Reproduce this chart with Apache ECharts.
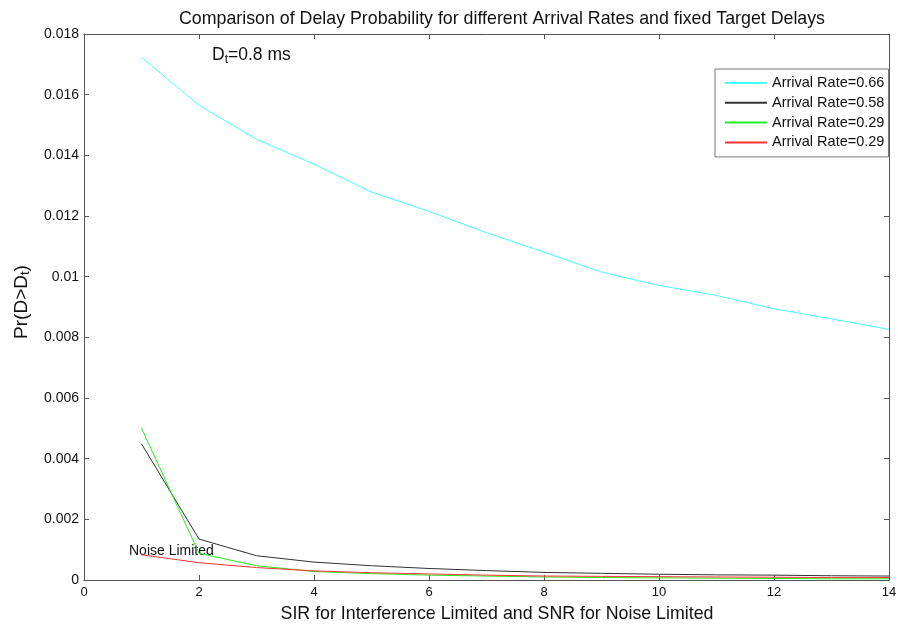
<!DOCTYPE html>
<html>
<head>
<meta charset="utf-8">
<script src="https://cdn.jsdelivr.net/npm/echarts@6/dist/echarts.min.js"></script>
<style>html,body{margin:0;padding:0;background:#fff;}#c{width:898px;height:628px;}</style>
</head>
<body>
<div id="c"></div>
<script>
const xValues = [1, 2, 3, 4, 5, 6, 7, 8, 9, 10, 11, 12, 13, 14];
const rate066 = [0.01723, 0.01565, 0.01453, 0.01371, 0.01279, 0.01215, 0.01145, 0.01081, 0.01015, 0.00971, 0.00938, 0.00894, 0.00861, 0.00826];
const rate058 = [0.00449, 0.00135, 0.00080, 0.00059, 0.00047, 0.00038, 0.00031, 0.00025, 0.00022, 0.00019, 0.00017, 0.00016, 0.00014, 0.00013];
const rate029a = [0.00501, 0.00088, 0.00047, 0.00028, 0.00021, 0.00016, 0.00013, 0.00010, 0.00008, 0.00007, 0.00006, 0.00005, 0.00004, 0.00004];
const rate029b = [0.00083, 0.00057, 0.00041, 0.00030, 0.00024, 0.00020, 0.00016, 0.00013, 0.00012, 0.00011, 0.00010, 0.00009, 0.00008, 0.00008];
const seriesNames = ['Arrival Rate=0.66', 'Arrival Rate=0.58', 'Arrival Rate=0.29', 'Arrival Rate=0.29 '];
const xTicks = [0, 2, 4, 6, 8, 10, 12, 14];
const yTicks = [0, 0.002, 0.004, 0.006, 0.008, 0.010, 0.012, 0.014, 0.016, 0.018];

const FONT = "'Liberation Sans', Arial, sans-serif";
const AX = '#555';
const chart = echarts.init(document.getElementById('c'));
const pair = arr => xValues.map((x, i) => [x, arr[i]]);
const axisCommon = {
  axisLine: { show: true, onZero: false, lineStyle: { color: AX, width: 1 } },
  axisTick: { show: true, inside: true, length: 5, lineStyle: { color: AX } },
  splitLine: { show: false }
};
function mkSeries(name, arr, color) {
  return { name: name, type: 'line', data: pair(arr), symbol: 'none', showSymbol: false,
    lineStyle: { color: color, width: 1 }, itemStyle: { color: color }, animation: false };
}
chart.setOption({
  animation: false,
  backgroundColor: '#fff',
  title: {
    text: 'Comparison of Delay Probability for different Arrival Rates and fixed Target Delays',
    left: 497, top: 5, textAlign: 'center',
    textStyle: { fontFamily: FONT, fontSize: 17.8, fontWeight: 'normal', color: '#111' }
  },
  grid: { left: 84, right: 9, top: 34, bottom: 48, containLabel: false, outerBoundsMode: 'none' },
  legend: {
    orient: 'vertical', left: 715, top: 69,
    padding: [6.5, 0, 7, 9], itemGap: 4.8, itemWidth: 42, itemHeight: 14,
    borderColor: '#777', borderWidth: 1, backgroundColor: '#fff',
    itemStyle: { opacity: 0 },
    textStyle: { fontFamily: FONT, fontSize: 14.5, lineHeight: 14, color: '#111' },
    data: seriesNames
  },
  xAxis: [
    Object.assign({ type: 'value', min: 0, max: 14, interval: 2, position: 'bottom',
      name: 'SIR for Interference Limited and SNR for Noise Limited',
      nameLocation: 'middle', nameGap: 25,
      nameTextStyle: { fontFamily: FONT, fontSize: 17.8, color: '#111', padding: [0, 0, 0, 21] },
      axisLabel: { fontFamily: FONT, fontSize: 13, color: '#111', margin: 6,
        formatter: v => xTicks.includes(v) ? String(v) : '' } }, axisCommon),
    Object.assign({ type: 'value', min: 0, max: 14, interval: 2, position: 'top',
      axisLabel: { show: false } }, axisCommon)
  ],
  yAxis: [
    Object.assign({ type: 'value', min: 0, max: 0.018, interval: 0.002, position: 'left',
      name: '{n|Pr(D>D}{s|t}{n|)}', nameLocation: 'middle', nameGap: 52, nameRotate: 90,
      nameTextStyle: { fontFamily: FONT, fontSize: 19, color: '#111', padding: [0, 0, 0, 10],
        rich: { n: { fontFamily: FONT, fontSize: 19, color: '#111' },
                s: { fontFamily: FONT, fontSize: 13, color: '#111', padding: [8, 0, 0, 0] } } },
      axisLabel: { fontFamily: FONT, fontSize: 14, color: '#111', margin: 5,
        formatter: v => { const t = yTicks.find(y => Math.abs(y - v) < 1e-9); return t === undefined ? '' : (t === 0 ? '0' : (t === 0.01 ? '0.01' : t.toFixed(3))); } } }, axisCommon),
    Object.assign({ type: 'value', min: 0, max: 0.018, interval: 0.002, position: 'right',
      axisLabel: { show: false } }, axisCommon)
  ],
  graphic: [
    { type: 'text', left: 212, top: 46, style: {
      text: '{n|D}{s|t}{n|=0.8 ms}',
      rich: { n: { fontFamily: FONT, fontSize: 17.5, fill: '#111' },
              s: { fontFamily: FONT, fontSize: 12, fill: '#111', padding: [9, 0, 0, 0] } } } },
    { type: 'text', left: 129, top: 544, style: { text: 'Noise Limited', fontFamily: FONT, fontSize: 14, fill: '#111' } }
  ],
  series: [
    mkSeries(seriesNames[0], rate066, '#44ffff'),
    mkSeries(seriesNames[1], rate058, '#333333'),
    mkSeries(seriesNames[2], rate029a, '#22ee22'),
    mkSeries(seriesNames[3], rate029b, '#ff3333')
  ]
});
</script>
</body>
</html>
